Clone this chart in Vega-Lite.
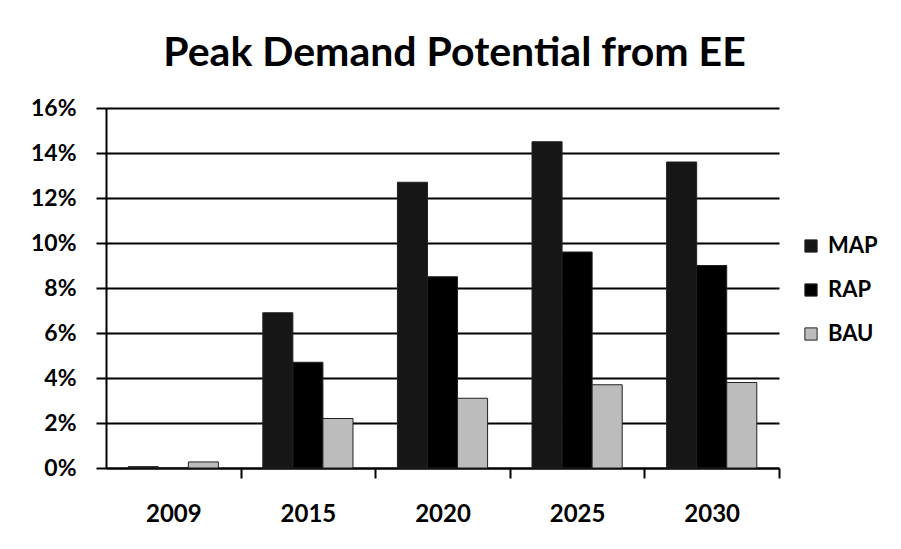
{
  "$schema": "https://vega.github.io/schema/vega-lite/v6.json",
  "width": 673,
  "height": 360,
  "autosize": {"type": "none"},
  "padding": {"left": 106, "top": 108, "right": 122, "bottom": 81},
  "background": "white",
  "title": {
    "text": "Peak Demand Potential from EE",
    "font": "Lato",
    "fontSize": 41,
    "fontWeight": "bold",
    "color": "black",
    "anchor": "middle",
    "offset": 22,
    "dx": 12
  },
  "data": {
    "values": [
      {"year": "2009", "series": "MAP", "value": 0.0006},
      {"year": "2009", "series": "RAP", "value": 0.0001},
      {"year": "2009", "series": "BAU", "value": 0.0027},
      {"year": "2015", "series": "MAP", "value": 0.069},
      {"year": "2015", "series": "RAP", "value": 0.047},
      {"year": "2015", "series": "BAU", "value": 0.022},
      {"year": "2020", "series": "MAP", "value": 0.127},
      {"year": "2020", "series": "RAP", "value": 0.085},
      {"year": "2020", "series": "BAU", "value": 0.031},
      {"year": "2025", "series": "MAP", "value": 0.145},
      {"year": "2025", "series": "RAP", "value": 0.096},
      {"year": "2025", "series": "BAU", "value": 0.037},
      {"year": "2030", "series": "MAP", "value": 0.136},
      {"year": "2030", "series": "RAP", "value": 0.090},
      {"year": "2030", "series": "BAU", "value": 0.038}
    ]
  },
  "mark": {"type": "bar", "stroke": "#222", "strokeWidth": 1},
  "encoding": {
    "x": {
      "field": "year",
      "type": "nominal",
      "scale": {"paddingInner": 0.33, "paddingOuter": 0.165},
      "axis": {
        "title": null,
        "labelAngle": 0,
        "labelFont": "Lato",
        "labelFontSize": 24,
        "labelFontWeight": "bold",
        "labelColor": "black",
        "labelPadding": 24,
        "labelOffset": -67.3,
        "domainColor": "black",
        "domainWidth": 2,
        "tickColor": "black",
        "tickWidth": 2,
        "tickSize": 10,
        "tickOffset": 67.3,
        "grid": false
      }
    },
    "xOffset": {
      "field": "series",
      "type": "nominal",
      "sort": ["MAP", "RAP", "BAU"],
      "scale": {"paddingInner": 0, "paddingOuter": 0}
    },
    "y": {
      "field": "value",
      "type": "quantitative",
      "scale": {"domain": [0, 0.16], "nice": false},
      "axis": {
        "title": null,
        "format": ".0%",
        "values": [0, 0.02, 0.04, 0.06, 0.08, 0.1, 0.12, 0.14, 0.16],
        "labelFont": "Lato",
        "labelFontSize": 23,
        "labelFontWeight": "bold",
        "labelColor": "black",
        "labelPadding": 20,
        "domainColor": "black",
        "domainWidth": 2,
        "tickColor": "black",
        "tickWidth": 2,
        "tickSize": 10,
        "gridColor": "black",
        "gridWidth": 2,
        "gridOpacity": 1
      }
    },
    "color": {
      "field": "series",
      "type": "nominal",
      "sort": ["MAP", "RAP", "BAU"],
      "scale": {"domain": ["MAP", "RAP", "BAU"], "range": ["#161616", "#000000", "#bcbcbc"]},
      "legend": {
        "title": null,
        "orient": "none",
        "legendX": 694,
        "legendY": 127,
        "symbolType": "square",
        "symbolSize": 150,
        "symbolStrokeColor": "#222",
        "symbolStrokeWidth": 1,
        "labelFont": "Lato",
        "labelFontSize": 22,
        "labelFontWeight": "bold",
        "labelColor": "black",
        "labelOffset": 6,
        "rowPadding": 22
      }
    }
  },
  "config": {"view": {"stroke": null}}
}
